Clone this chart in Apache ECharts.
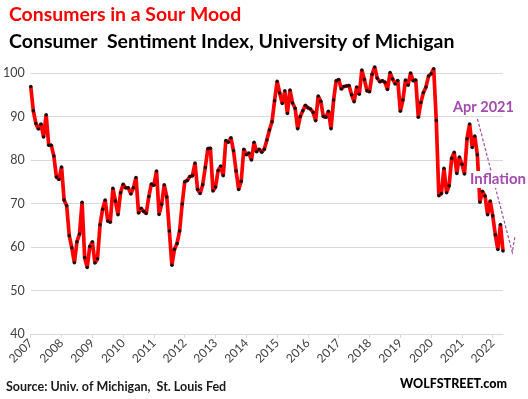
<!DOCTYPE html>
<html>
<head>
<meta charset="utf-8">
<script src="https://cdn.jsdelivr.net/npm/echarts@6/dist/echarts.min.js"></script>
<style>
  html, body { margin: 0; padding: 0; background: #fff; }
  #chart { width: 528px; height: 399px; }
</style>
</head>
<body>
<div id="chart"></div>
<script>
// year labels on the x axis (one tick per January)
const years = ['2007', '2008', '2009', '2010', '2011', '2012', '2013', '2014',
  '2015', '2016', '2017', '2018', '2019', '2020', '2021', '2022']

// monthly index values, Jan 2007 .. May 2022
const sentiment = [
  96.9, 91.3, 88.4, 87.1, 88.3, 85.3, 90.4, 83.4, 83.4, 80.9, 76.1, 75.5, // 2007
  78.4, 70.8, 69.5, 62.6, 59.8, 56.4, 61.2, 63.0, 70.3, 57.6, 55.3, 60.1, // 2008
  61.2, 56.3, 57.3, 65.1, 68.7, 70.8, 66.0, 65.7, 73.5, 70.6, 67.4, 72.5, // 2009
  74.4, 73.6, 73.6, 72.2, 73.6, 76.0, 67.8, 68.9, 68.2, 67.7, 71.6, 74.5, // 2010
  74.2, 77.5, 67.5, 69.8, 74.3, 71.5, 63.7, 55.8, 59.5, 60.8, 63.7, 69.9, // 2011
  75.0, 75.3, 76.2, 76.4, 79.3, 73.2, 72.3, 74.3, 78.3, 82.6, 82.7, 72.9, // 2012
  73.8, 77.6, 78.6, 76.4, 84.5, 84.1, 85.1, 82.1, 77.5, 73.2, 75.1, 82.5, // 2013
  81.2, 81.6, 80.0, 84.1, 81.9, 82.5, 81.8, 82.5, 84.6, 86.9, 88.8, 93.6, // 2014
  98.1, 95.4, 93.0, 95.9, 90.7, 96.1, 93.1, 91.9, 87.2, 90.0, 91.3, 92.6, // 2015
  92.0, 91.7, 91.0, 89.0, 94.7, 93.5, 90.0, 89.8, 91.2, 87.2, 93.8, 98.2, // 2016
  98.5, 96.3, 96.9, 97.0, 97.1, 95.0, 93.4, 96.8, 95.1, 100.7, 98.5, 95.9, // 2017
  95.7, 99.7, 101.4, 98.8, 98.0, 98.2, 97.9, 96.2, 100.1, 98.6, 97.5, 98.3, // 2018
  91.2, 93.8, 98.4, 97.2, 100.0, 98.2, 98.4, 89.8, 93.2, 95.5, 96.8, 99.3, // 2019
  99.8, 101.0, 89.1, 71.8, 72.3, 78.1, 72.5, 74.1, 80.4, 81.8, 76.9, 80.7, // 2020
  79.0, 76.8, 84.9, 88.3, 82.9, 85.5, 81.2, 70.3, 72.8, 71.7, 67.4, 70.6, // 2021
  67.2, 62.8, 59.4, 65.2, 59.1                                             // 2022
]

const yTicks = [40, 50, 60, 70, 80, 90, 100]

// one category per month, labelled by its year
const months = sentiment.map((v, i) => years[Math.floor(i / 12)] + '-' + (i % 12 + 1))

const purple = '#a34bae'
const font = 'Lato'

const chart = echarts.init(document.getElementById('chart'))

chart.setOption({
  animation: false,
  title: [
    {
      text: 'Consumers in a Sour Mood',
      left: 9, top: 5, padding: 0,
      textStyle: { color: '#ff0000', fontSize: 19.4, fontWeight: 'bold', fontFamily: font }
    },
    {
      text: 'Consumer  Sentiment Index, University of Michigan',
      left: 9, top: 32, padding: 0,
      textStyle: { color: '#000', fontSize: 19.5, fontWeight: 'bold', fontFamily: font }
    },
    {
      text: 'Source: Univ. of Michigan,  St. Louis Fed',
      left: 6, top: 380, padding: 0,
      textStyle: { color: '#1a1a1a', fontSize: 12.5, fontWeight: 'bold', fontFamily: font }
    },
    {
      text: 'WOLFSTREET.com',
      left: 400, top: 377, padding: 0,
      textStyle: { color: '#000', fontSize: 12.5, fontWeight: 900, fontFamily: font }
    }
  ],
  grid: { left: 28, right: 25, top: 73, bottom: 65, containLabel: false },
  xAxis: {
    type: 'category',
    data: months,
    boundaryGap: false,
    axisLine: { show: true, lineStyle: { color: '#d9d9d9', width: 1 } },
    axisTick: { show: true, interval: 11, length: 4, lineStyle: { color: '#d9d9d9' } },
    axisLabel: {
      interval: 11,
      rotate: 45,
      margin: 7,
      color: '#404040',
      fontSize: 12,
      fontFamily: font,
      formatter: (v) => v.slice(0, 4)
    },
    splitLine: { show: false }
  },
  yAxis: {
    type: 'value',
    min: yTicks[0],
    max: yTicks[yTicks.length - 1],
    interval: 10,
    axisLine: { show: false },
    axisTick: { show: false },
    axisLabel: { color: '#404040', fontSize: 12.5, fontFamily: font, margin: 6 },
    splitLine: { lineStyle: { color: '#d9d9d9', width: 1 } }
  },
  series: [
    {
      type: 'line',
      data: sentiment,
      clip: false,
      showAllSymbol: true,
      symbol: 'circle',
      symbolSize: 3.5,
      itemStyle: { color: '#111' },
      lineStyle: { color: '#ff0000', width: 3.7 },
      emphasis: { disabled: true },
      z: 3
    }
  ],
  graphic: [
    {
      type: 'polyline',
      z: 50,
      shape: { points: [[477.5, 119], [512.3, 252.3], [515, 236]] },
      style: { stroke: purple, lineWidth: 1.2, lineDash: [3, 2], fill: null }
    },
    {
      type: 'text',
      z: 60,
      left: 453, top: 100,
      style: { text: 'Apr 2021', fill: purple, font: 'bold 14.5px ' + font }
    },
    {
      type: 'text',
      z: 60,
      left: 468, top: 171,
      style: {
        text: 'Inflation', fill: purple, font: 'bold 15px ' + font,
        backgroundColor: '#fff', padding: [1, 1, 1, 2]
      }
    }
  ]
})
</script>
</body>
</html>
